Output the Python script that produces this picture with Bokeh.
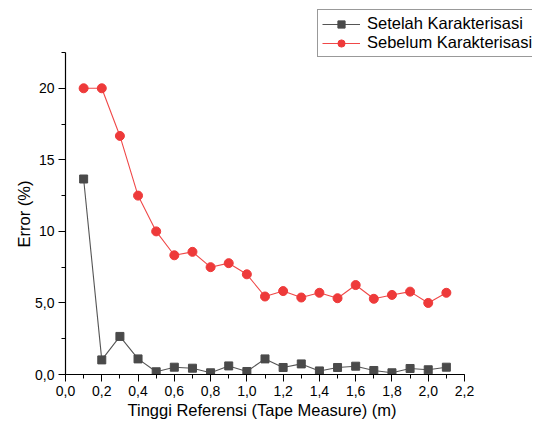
from bokeh.plotting import figure
from bokeh.models import FixedTicker, Legend, LegendItem, Range1d, Title
from bokeh.embed import file_html
from bokeh.resources import INLINE

# Data
tinggi = [0.1, 0.2, 0.3, 0.4, 0.5, 0.6, 0.7, 0.8, 0.9, 1.0, 1.1,
          1.2, 1.3, 1.4, 1.5, 1.6, 1.7, 1.8, 1.9, 2.0, 2.1]
setelah = [13.66, 1.02, 2.66, 1.09, 0.19, 0.51, 0.44, 0.12, 0.60, 0.21, 1.09,
           0.49, 0.74, 0.25, 0.49, 0.58, 0.28, 0.12, 0.42, 0.33, 0.51]
sebelum = [20.0, 20.0, 16.67, 12.5, 10.0, 8.33, 8.57, 7.5, 7.78, 7.0, 5.45,
           5.83, 5.38, 5.71, 5.33, 6.25, 5.29, 5.56, 5.79, 5.0, 5.71]

x_ticks = [0.0, 0.2, 0.4, 0.6, 0.8, 1.0, 1.2, 1.4, 1.6, 1.8, 2.0, 2.2]
x_tick_labels = ["0,0", "0,2", "0,4", "0,6", "0,8", "1,0", "1,2", "1,4", "1,6", "1,8", "2,0", "2,2"]
y_ticks = [0, 5, 10, 15, 20]
y_tick_labels = ["0,0", "5,0", "10", "15", "20"]
x_axis_end = 2.2
y_axis_end = 22.5

FONT = "Liberation Sans"

# Layout (pixels): axes drawn from left=65 to 464, bottom=374 to top=52
W, H = 534, 424
left, right_axis, bottom, top_axis = 65, 464, 374, 52
frame_right, frame_top = 532, 4
x_end = x_axis_end * (frame_right - left) / (right_axis - left)
y_end = y_axis_end * (bottom - frame_top) / (bottom - top_axis)

p = figure(width=W, height=H, output_backend="svg", toolbar_location=None,
           x_range=Range1d(0, x_end), y_range=Range1d(0, y_end),
           min_border_left=left, min_border_top=frame_top,
           min_border_right=W - frame_right, min_border_bottom=H - bottom)
p.outline_line_color = None
p.xgrid.visible = False
p.ygrid.visible = False
p.background_fill_color = "white"
p.border_fill_color = "white"

l1 = p.line(tinggi, setelah, line_color="#555555", line_width=1.1)
s1 = p.scatter(tinggi, setelah, marker="square", size=8, fill_color="#4a4a4a",
               line_color="#4a4a4a")
l2 = p.line(tinggi, sebelum, line_color="#F04848", line_width=1.1)
s2 = p.scatter(tinggi, sebelum, marker="circle", size=9, fill_color="#EE3A3A",
               line_color="#EE3A3A")

# Axes
xt = FixedTicker(ticks=x_ticks, minor_ticks=[round(0.1 * i, 2) for i in range(23)])
yt = FixedTicker(ticks=y_ticks, minor_ticks=[2.5 * i for i in range(10)])
p.xaxis.ticker = xt
p.yaxis.ticker = yt
p.xaxis.bounds = (0, x_axis_end)
p.yaxis.bounds = (0, y_axis_end)
p.xaxis.major_label_overrides = {t: l for t, l in zip(x_ticks, x_tick_labels)}
p.yaxis.major_label_overrides = {t: l for t, l in zip(y_ticks, y_tick_labels)}

for ax in (p.xaxis[0], p.yaxis[0]):
    ax.axis_line_color = "black"
    ax.axis_line_width = 1.2
    ax.major_tick_line_color = "black"
    ax.minor_tick_line_color = "black"
    ax.major_tick_in = 0
    ax.major_tick_out = 7
    ax.minor_tick_in = 0
    ax.minor_tick_out = 4
    ax.major_label_text_font = FONT
    ax.major_label_text_font_size = "14px"
    ax.major_label_text_color = "black"
    ax.major_label_standoff = 4

# Axis titles, positioned along the drawn axes (not the extended frame)
xlabel = Title(text="Tinggi Referensi (Tape Measure) (m)", align="left",
               offset=127 - left, standoff=0,
               text_font=FONT, text_font_size="16.5px",
               text_font_style="normal", text_color="black")
p.add_layout(xlabel, "below")
ylabel = Title(text="Error (%)", align="left",
               offset=bottom - 247, standoff=0,
               text_font=FONT, text_font_size="16.5px",
               text_font_style="normal", text_color="black")
p.add_layout(ylabel, "left")

legend = Legend(items=[
    LegendItem(label="Setelah Karakterisasi", renderers=[l1, s1]),
    LegendItem(label="Sebelum Karakterisasi", renderers=[l2, s2]),
], location=(317 - left, bottom - 57))
legend.label_text_font = FONT
legend.label_text_font_size = "16.5px"
legend.label_text_color = "black"
legend.border_line_color = "#333333"
legend.border_line_width = 1
legend.background_fill_color = "white"
legend.background_fill_alpha = 1
legend.glyph_width = 38
legend.glyph_height = 18
legend.label_height = 18
legend.label_standoff = 7
legend.spacing = 0
legend.padding = 4
legend.margin = 0
p.add_layout(legend, "center")

open("out.html", "w").write(file_html(p, INLINE))
